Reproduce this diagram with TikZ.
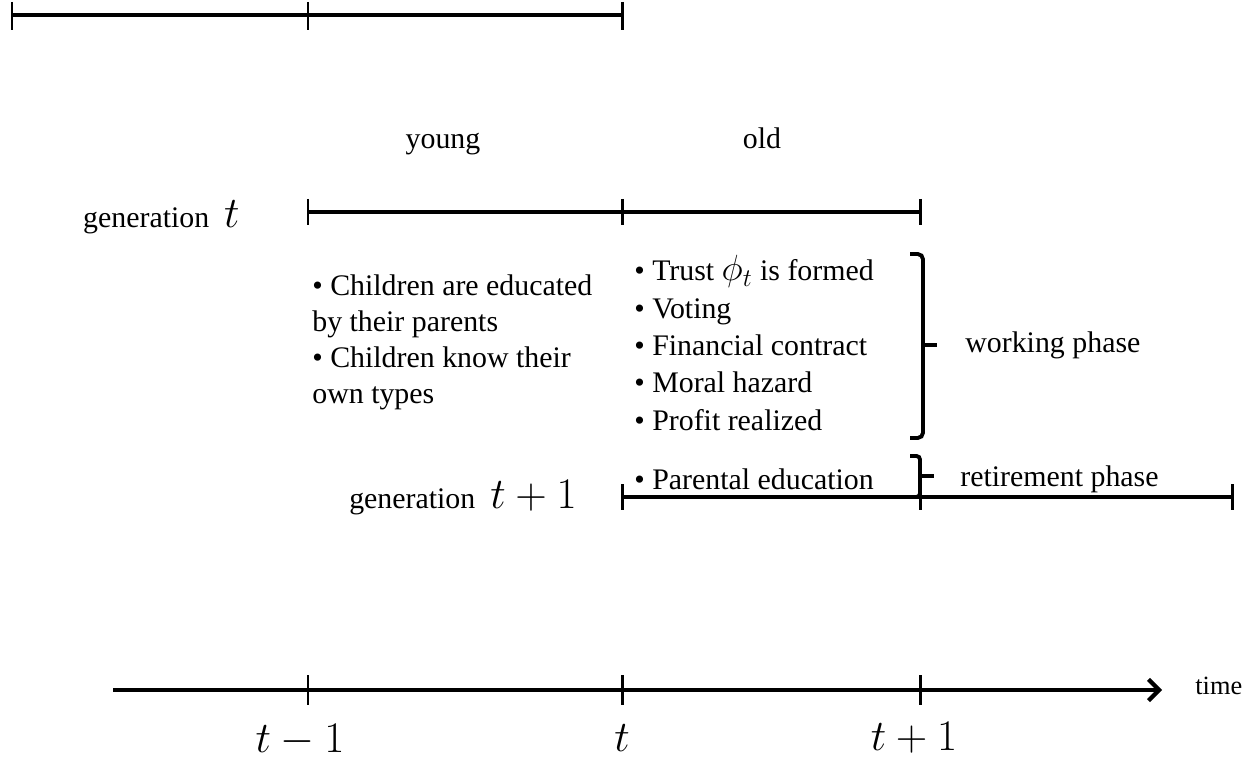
\documentclass[tikz,border=0pt]{standalone}
\usepackage{fontspec}
\setmainfont{Liberation Serif}
\usetikzlibrary{arrows.meta}
\begin{document}
\begin{tikzpicture}[x=0.02cm,y=-0.02cm,
  tl/.style={line width=2.4pt},
  tick/.style={line width=1.7pt},
  txt/.style={inner sep=0pt,font=\fontsize{17}{21.5}\selectfont},
  mth/.style={inner sep=0pt,font=\fontsize{24}{28}\selectfont},
  brk/.style={line width=2.2pt,rounded corners=3pt}]
\useasboundingbox (0,0) rectangle (1254,759);
% top line
\coordinate (a0) at (12,15); \coordinate (a1) at (308,15); \coordinate (a2) at (622,15);
\draw[tl] (a0) -- (a2);
\foreach \p in {a0,a1,a2} \draw[tick] ([yshift=0.26cm]\p) -- ([yshift=-0.30cm]\p);
% generation t
\coordinate (b0) at (308,212); \coordinate (b1) at (622,212); \coordinate (b2) at (920,212);
\draw[tl] (b0) -- (b2);
\foreach \p in {b0,b1,b2} \draw[tick] ([yshift=0.26cm]\p) -- ([yshift=-0.26cm]\p);
\node[txt,anchor=base] (young) at (443,149) {young};
\node[txt,anchor=base] (old) at (762,149) {old};
\node[txt,anchor=base east] (gt) at (240,228) {generation\ \ {\fontsize{24}{28}\selectfont$t$}};
% lists
\node[txt,anchor=north west,align=left,font=\fontsize{17}{20.5}\selectfont] (kids) at (312,274)
 {• Children are educated\\by their parents\\• Children know their\\own types};
\node[txt,anchor=north west,align=left,font=\fontsize{17}{21.3}\selectfont] (old1) at (634,255)
 {• Trust {\fontsize{20}{24}\selectfont$\phi_t$} is formed\\• Voting\\• Financial contract\\• Moral hazard\\• Profit realized};
\node[txt,anchor=west] (par) at (634,479) {• Parental education};
% braces
\coordinate (w0) at (910,254); \coordinate (w1) at (910,438);
\coordinate (wv) at (923,345); \coordinate (wt) at (937,345);
\draw[brk] (w0) -| (wv |- w1) -- (w1);
\draw[brk] (wv) -- (wt);
\node[txt,anchor=west] (work) at (965,345) {working phase};
\coordinate (r0) at (910,456); \coordinate (r1) at (910,497);
\coordinate (rv) at (920,476); \coordinate (rt) at (934,476);
\draw[brk,rounded corners=2pt] (r0) -| (rv |- r1) -- (r1);
\draw[brk] (rv) -- (rt);
\node[txt,anchor=west] (ret) at (960,479) {retirement phase};
% generation t+1
\coordinate (c0) at (622,497); \coordinate (c1) at (920,497); \coordinate (c2) at (1232,497);
\draw[tl] (c0) -- (c2);
\foreach \p in {c0,c1,c2} \draw[tick] ([yshift=0.26cm]\p) -- ([yshift=-0.26cm]\p);
\node[txt,anchor=base east] (gt1) at (577,509) {generation\ \ {\fontsize{24}{28}\selectfont$t+1$}};
% time axis
\coordinate (d0) at (113,690); \coordinate (d4) at (1162,690);
\coordinate (d1) at (308,690); \coordinate (d2) at (622,690); \coordinate (d3) at (920,690);
\draw[tl,-{Straight Barb[length=6pt,width=12pt]}] (d0) -- (d4);
\foreach \p in {d1,d2,d3} \draw[tick] ([yshift=0.30cm]\p) -- ([yshift=-0.30cm]\p);
\node[txt,anchor=west,font=\fontsize{15}{18}\selectfont] (time) at (1195,686) {time};
\node[mth] (l1) at (300,740) {$t-1$};
\node[mth] (l2) at (622,738) {$t$};
\node[mth] (l3) at (914,738) {$t+1$};
\end{tikzpicture}
\end{document}
